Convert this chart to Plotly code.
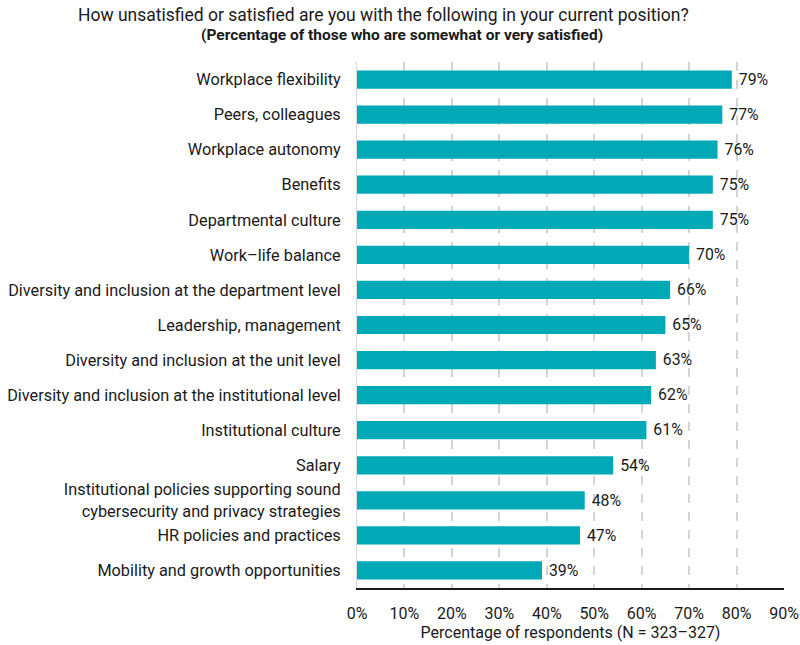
import plotly.graph_objects as go

# ---------- DATA ----------
categories = [
    "Workplace flexibility",
    "Peers, colleagues",
    "Workplace autonomy",
    "Benefits",
    "Departmental culture",
    "Work–life balance",
    "Diversity and inclusion at the department level",
    "Leadership, management",
    "Diversity and inclusion at the unit level",
    "Diversity and inclusion at the institutional level",
    "Institutional culture",
    "Salary",
    "Institutional policies supporting sound<br>cybersecurity and privacy strategies",
    "HR policies and practices",
    "Mobility and growth opportunities",
]
satisfied_pct = [79, 77, 76, 75, 75, 70, 66, 65, 63, 62, 61, 54, 48, 47, 39]
x_ticks = [0, 10, 20, 30, 40, 50, 60, 70, 80, 90]

BAR_COLOR = "#00A9B5"
FONT = "Roboto"
TXT = "#1a1a1a"

fig = go.Figure()
fig.add_trace(go.Bar(
    y=categories,
    x=satisfied_pct,
    orientation="h",
    marker_color=BAR_COLOR,
    marker_line_width=0,
    text=[f" {v}%" for v in satisfied_pct],
    textposition="outside",
    textfont=dict(family=FONT, size=16.5, color=TXT),
    cliponaxis=False,
    width=0.52,
))

fig.update_layout(
    width=800, height=645,
    margin=dict(l=357, r=16, t=62, b=57, autoexpand=False),
    plot_bgcolor="white", paper_bgcolor="white",
    font=dict(family=FONT, size=15, color=TXT),
    showlegend=False,
)

fig.update_yaxes(
    autorange="reversed",
    automargin=False,
    showgrid=False,
    showline=True, linecolor="#d9d9d9", linewidth=1,
    ticks="", ticklabelstandoff=12,
    tickfont=dict(family=FONT, size=16.3, color=TXT),
)

fig.update_xaxes(
    range=[0, 90],
    automargin=False,
    tickvals=x_ticks,
    ticktext=[f"{t}%" for t in x_ticks],
    showgrid=True, gridcolor="#d4d4d4", griddash="dash", gridwidth=1.5,
    zeroline=False,
    showline=True, linecolor=TXT, linewidth=2,
    ticks="", ticklabelstandoff=10,
    tickfont=dict(family=FONT, size=16, color=TXT),
    title=dict(text="Percentage of respondents (N = 323–327)",
               font=dict(family=FONT, size=16, color=TXT), standoff=4),
)

fig.add_annotation(
    text="How unsatisfied or satisfied are you with the following in your current position?",
    xref="paper", yref="paper", x=(383 - 357) / 427, y=1,
    xanchor="center", yanchor="middle", yshift=47, showarrow=False,
    font=dict(family=FONT, size=17.5, color=TXT),
)
fig.add_annotation(
    text="<b>(Percentage of those who are somewhat or very satisfied)</b>",
    xref="paper", yref="paper", x=(402 - 357) / 427, y=1,
    xanchor="center", yanchor="middle", yshift=27, showarrow=False,
    font=dict(family=FONT, size=15.5, color=TXT),
)

fig.write_html("out.html", config={"displayModeBar": False},
               post_script="document.body.style.margin='0';")
